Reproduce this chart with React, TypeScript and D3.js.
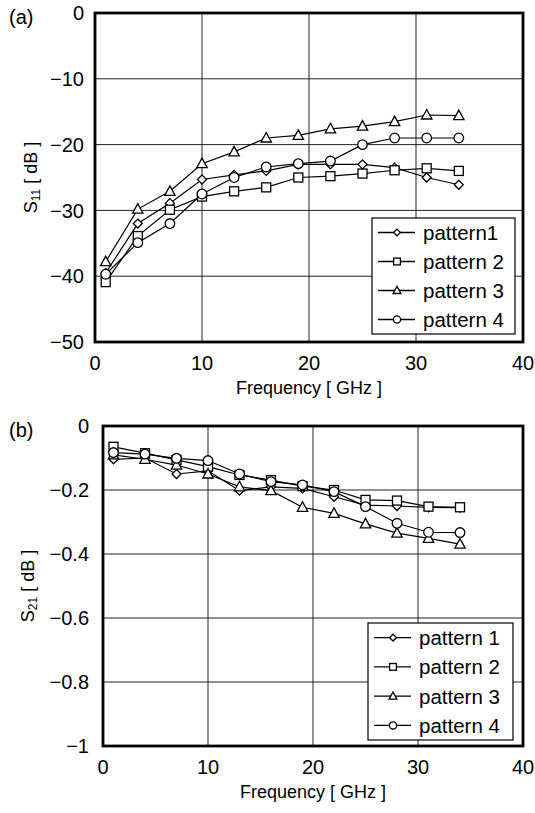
import React from 'react';
import * as d3 from 'd3';

// frequency points (GHz), shared by both panels
const freqs = [1, 4, 7, 10, 13, 16, 19, 22, 25, 28, 31, 34];

// S11 [dB]
const s11Pattern1 = [-39.5, -32, -28.9, -25.3, -24.6, -24, -23, -23, -23, -23.5, -25, -26.1];
const s11Pattern2 = [-40.9, -33.9, -29.9, -27.9, -27.1, -26.5, -25, -24.8, -24.4, -23.9, -23.6, -24];
const s11Pattern3 = [-37.8, -29.8, -27.1, -22.9, -21.1, -19, -18.6, -17.6, -17.2, -16.5, -15.5, -15.6];
const s11Pattern4 = [-39.7, -34.9, -32, -27.5, -25, -23.4, -22.9, -22.5, -20, -19, -19, -19];

// S21 [dB]
const s21Pattern1 = [-0.104, -0.1, -0.15, -0.14, -0.202, -0.19, -0.195, -0.221, -0.247, -0.25, -0.254, -0.255];
const s21Pattern2 = [-0.065, -0.085, -0.106, -0.127, -0.153, -0.169, -0.188, -0.2, -0.231, -0.233, -0.252, -0.254];
const s21Pattern3 = [-0.09, -0.104, -0.122, -0.15, -0.19, -0.202, -0.254, -0.273, -0.306, -0.335, -0.351, -0.369];
const s21Pattern4 = [-0.083, -0.088, -0.101, -0.108, -0.15, -0.174, -0.184, -0.205, -0.252, -0.304, -0.332, -0.333];

const xTicks = [0, 10, 20, 30, 40];
const s11Ticks = [0, -10, -20, -30, -40, -50];
const s21Ticks = [0, -0.2, -0.4, -0.6, -0.8, -1];

const legendA = ['pattern1', 'pattern 2', 'pattern 3', 'pattern 4'];
const legendB = ['pattern 1', 'pattern 2', 'pattern 3', 'pattern 4'];
const markers = ['diamond', 'square', 'triangle', 'circle'];

const FONT = 'Liberation Sans, Arial, sans-serif';

const Marker = ({ kind, x, y, s = 1 }: { kind: string; x: number; y: number; s?: number }) => {
  const st = { fill: '#fff', stroke: '#000', strokeWidth: 1.3 };
  if (kind === 'square') return <rect x={x - 4.5 * s} y={y - 4.5 * s} width={9 * s} height={9 * s} {...st} />;
  if (kind === 'circle') return <circle cx={x} cy={y} r={4.8 * s} {...st} />;
  if (kind === 'triangle')
    return <path d={`M${x},${y - 5.5 * s}L${x + 5.2 * s},${y + 4 * s}L${x - 5.2 * s},${y + 4 * s}Z`} {...st} />;
  return <path d={`M${x},${y - 4.5 * s}L${x + 4.5 * s},${y}L${x},${y + 4.5 * s}L${x - 4.5 * s},${y}Z`} {...st} />;
};

type PanelProps = {
  left: number; right: number; top: number; bottom: number;
  yDomain: [number, number]; yTicks: number[]; fmt: (v: number) => string;
  series: number[][]; legend: string[]; legendBox: [number, number, number, number];
  sub: string; tag: string; labelX: number; tickRight: number;
};

const Panel = (p: PanelProps) => {
  const x = d3.scaleLinear().domain([0, 40]).range([p.left, p.right]);
  const y = d3.scaleLinear().domain(p.yDomain).range([p.bottom, p.top]);
  const line = d3.line<number>().x((_, i) => x(freqs[i])).y(d => y(d));
  const [lx, ly, lw, lh] = p.legendBox;
  const rowH = lh / 4;
  const cy = (p.top + p.bottom) / 2;
  return (
    <g fontFamily={FONT}>
      {xTicks.slice(1, -1).map(t => (
        <line key={'gx' + t} x1={x(t)} x2={x(t)} y1={p.top} y2={p.bottom} stroke="#222" strokeWidth={1} />
      ))}
      {p.yTicks.slice(1, -1).map(t => (
        <line key={'gy' + t} x1={p.left} x2={p.right} y1={y(t)} y2={y(t)} stroke="#222" strokeWidth={1} />
      ))}
      {p.series.map((s, k) => (
        <path key={'l' + k} d={line(s) || ''} fill="none" stroke="#000" strokeWidth={1.2} />
      ))}
      {p.series.map((s, k) =>
        s.map((v, i) => <Marker key={k + '-' + i} kind={markers[k]} x={x(freqs[i])} y={y(v)} />)
      )}
      <rect x={p.left} y={p.top} width={p.right - p.left} height={p.bottom - p.top}
        fill="none" stroke="#000" strokeWidth={2.8} />
      <rect x={lx} y={ly} width={lw} height={lh} fill="#fff" stroke="#000" strokeWidth={1.2} />
      {p.legend.map((name, k) => {
        const ry = ly + rowH * (k + 0.5);
        return (
          <g key={'lg' + k}>
            <line x1={lx + 6} x2={lx + 43} y1={ry} y2={ry} stroke="#000" strokeWidth={1.3} />
            <Marker kind={markers[k]} x={lx + 25} y={ry} s={0.75} />
            <text x={lx + 51} y={ry} dy="0.36em" fontSize={20.5}>{name}</text>
          </g>
        );
      })}
      {xTicks.map(t => (
        <text key={'xt' + t} x={x(t)} y={p.bottom + 21} dy="0.36em" textAnchor="middle" fontSize={20}>{t}</text>
      ))}
      {p.yTicks.map(t => (
        <text key={'yt' + t} x={p.tickRight} y={y(t)} dy="0.36em" textAnchor="end" fontSize={20}>{p.fmt(t)}</text>
      ))}
      <text x={(p.left + p.right) / 2} y={p.bottom + 46} dy="0.36em" textAnchor="middle" fontSize={18}>
        Frequency [ GHz ]
      </text>
      <text transform={`translate(${p.labelX},${cy}) rotate(-90)`} textAnchor="middle" dy="0.36em" fontSize={18}>
        S<tspan fontSize={12} dy="3">{p.sub}</tspan><tspan dy="-3"> [ dB ]</tspan>
      </text>
      <text x={9} y={p.top + 4} dy="0.36em" fontSize={20}>{p.tag}</text>
    </g>
  );
};

const minus = (v: number) => (v < 0 ? '\u2212' + String(-v) : String(v));
const minusDec = (v: number) => (v === 0 || v === -1 ? minus(v) : '\u2212' + (-v).toFixed(1));

export default function App() {
  return (
    <svg width={535} height={813} style={{ position: 'absolute', left: 0, top: 0, background: '#fff' }}>
      <Panel left={95} right={523} top={13} bottom={342} yDomain={[-50, 0]} yTicks={s11Ticks}
        fmt={minus} series={[s11Pattern1, s11Pattern2, s11Pattern3, s11Pattern4]}
        legend={legendA} legendBox={[372, 218, 143, 116]} sub="11" tag="(a)"
        labelX={31} tickRight={84} />
      <Panel left={103} right={523} top={426} bottom={746} yDomain={[-1, 0]} yTicks={s21Ticks}
        fmt={minusDec} series={[s21Pattern1, s21Pattern2, s21Pattern3, s21Pattern4]}
        legend={legendB} legendBox={[368, 623, 145, 117]} sub="21" tag="(b)"
        labelX={28} tickRight={89} />
    </svg>
  );
}
